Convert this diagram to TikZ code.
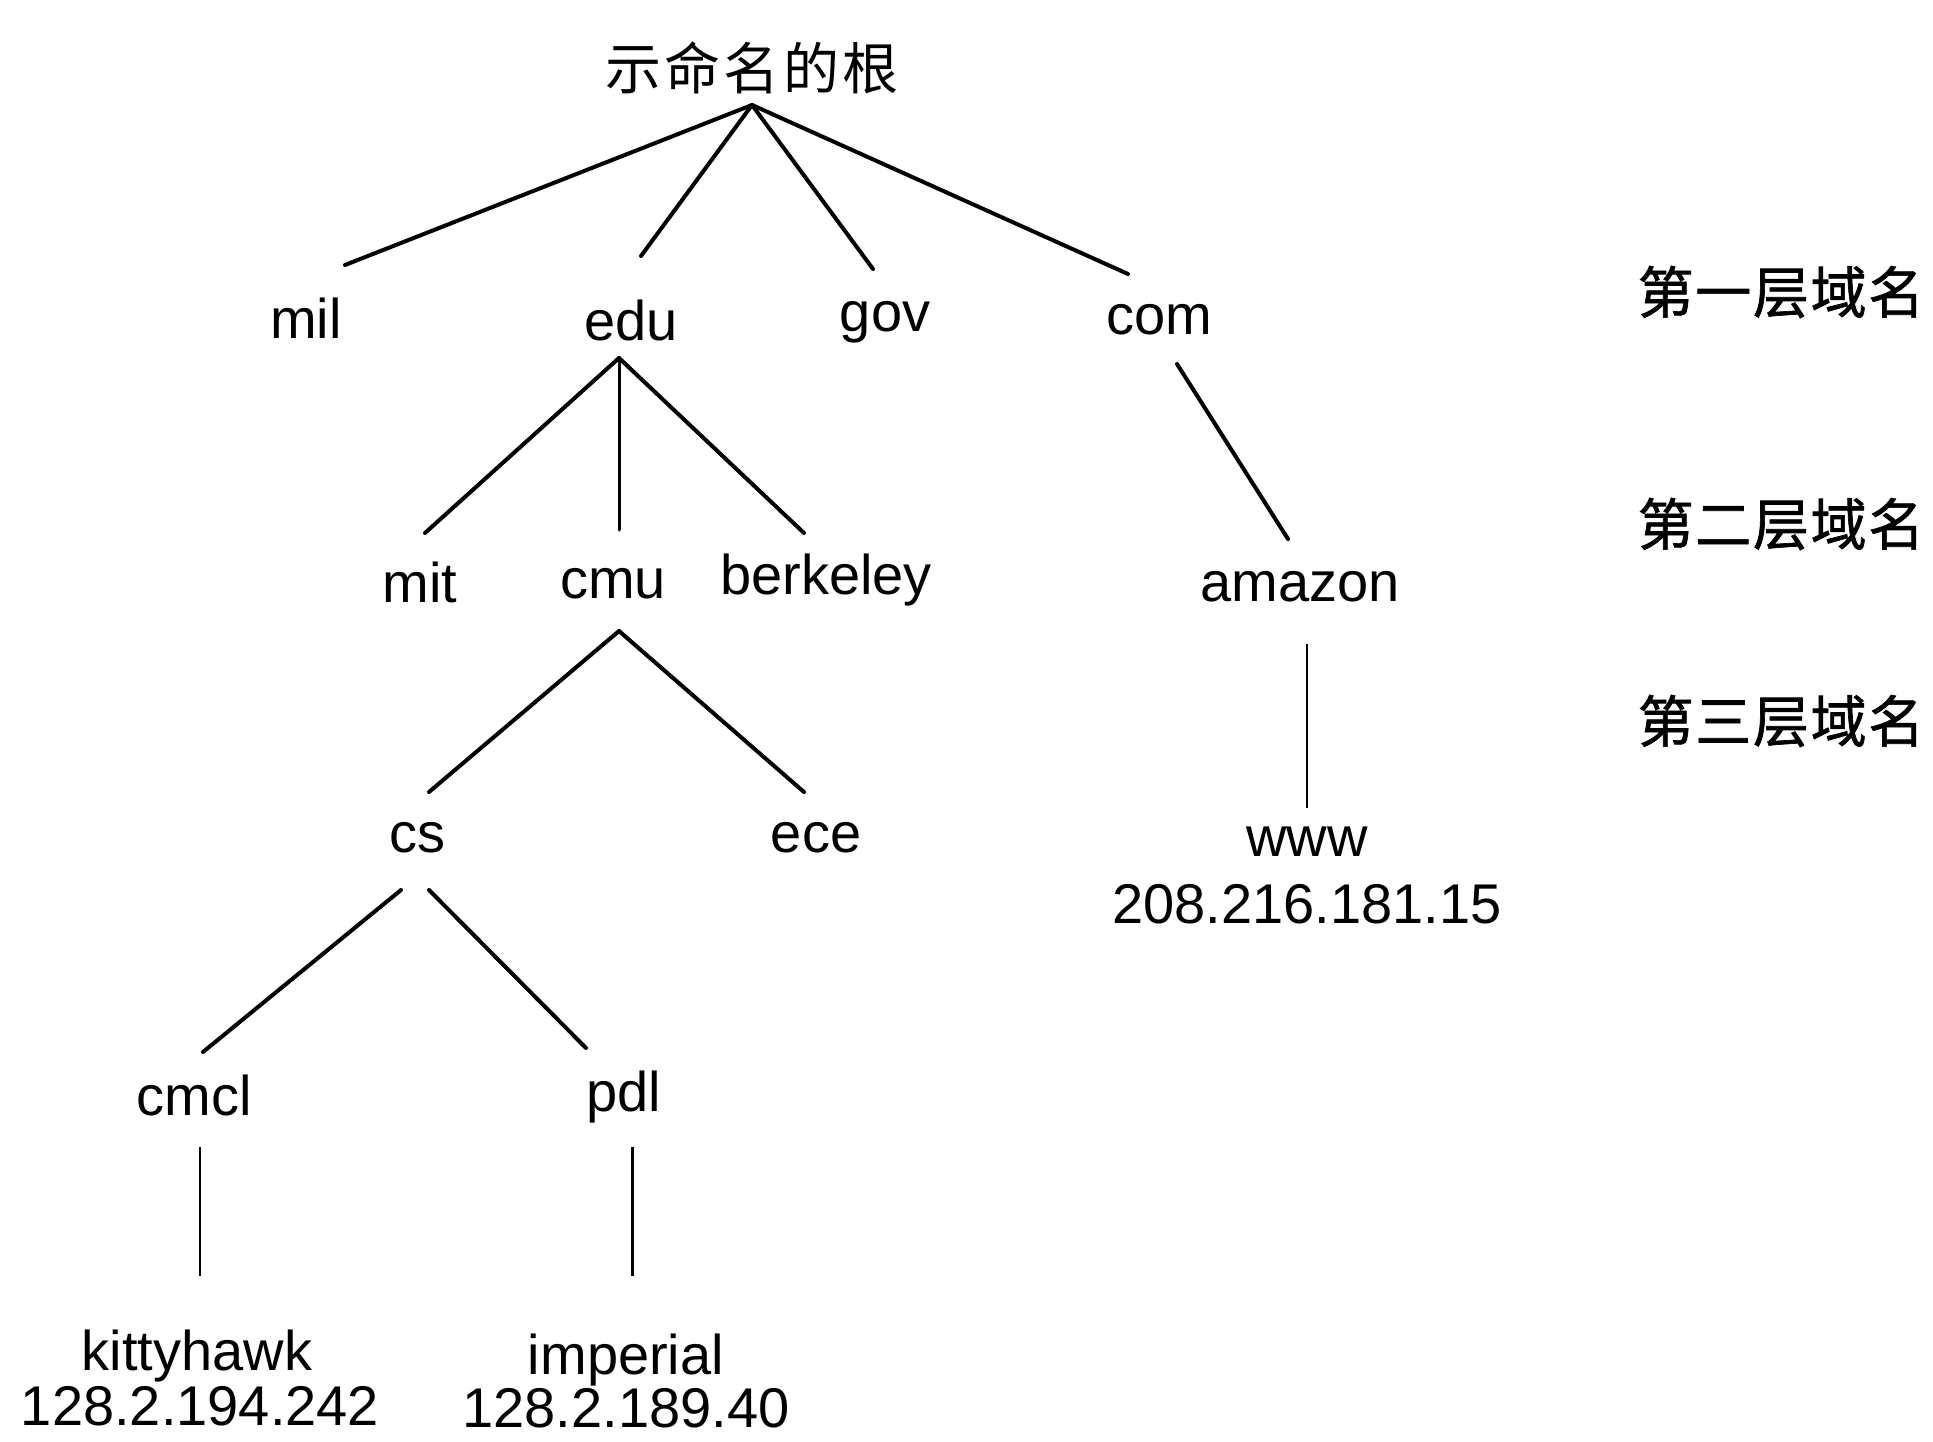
\documentclass[tikz,border=0pt]{standalone}
\usepackage{fontspec}
\setmainfont{Liberation Sans}
\newfontfamily\cjk[LetterSpace=6]{Noto Sans CJK SC}
\newfontfamily\cjkb[FakeBold=1.2,LetterSpace=3]{Noto Sans CJK SC}
\begin{document}
\begin{tikzpicture}[x=1pt,y=-1pt,
  lbl/.style={inner sep=0pt,font=\fontsize{56}{62}\selectfont},
  cjklbl/.style={inner sep=0pt,font=\fontsize{56}{62}\selectfont\cjk},
  lvl/.style={inner sep=0pt,font=\fontsize{56}{62}\selectfont\cjkb},
  edge/.style={line width=4pt,line cap=round},
  vedge/.style={line width=2.2pt}]
\useasboundingbox (0,0) rectangle (1933,1442);
% nodes
\node[cjklbl] (root) at (752,68) {示命名的根};
\node[lbl] (mil) at (306,318) {mil};
\node[lbl] (edu) at (631,320) {edu};
\node[lbl] (gov) at (885,322) {gov};
\node[lbl] (com) at (1159,320) {com};
\node[lbl] (mit) at (420,582) {mit};
\node[lbl] (cmu) at (613,584) {cmu};
\node[lbl] (berkeley) at (826,580) {berkeley};
\node[lbl] (amazon) at (1300,587) {amazon};
\node[lbl] (cs) at (417,838) {cs};
\node[lbl] (ece) at (816,838) {ece};
\node[lbl] (www) at (1307,842) {www};
\node[lbl] (wwwip) at (1307,904) {208.216.181.15};
\node[lbl] (cmcl) at (194,1095) {cmcl};
\node[lbl] (pdl) at (624,1097) {pdl};
\node[lbl] (kitty) at (197,1356) {kittyhawk};
\node[lbl] (kittyip) at (200,1406) {128.2.194.242};
\node[lbl] (imperial) at (626,1360) {imperial};
\node[lbl] (imperialip) at (626,1408) {128.2.189.40};
\node[lvl] (l1) at (1781,292) {第一层域名};
\node[lvl] (l2) at (1781,524) {第二层域名};
\node[lvl] (l3) at (1781,721) {第三层域名};
% connector end points
\coordinate (rootA) at (752,105);
\coordinate (milT) at (345,265);
\coordinate (eduT) at (641,256);
\coordinate (govT) at (873,269);
\coordinate (comT) at (1128,274);
\coordinate (eduA) at (619,358);
\coordinate (mitT) at (425,533);
\coordinate (cmuT) at (619,530);
\coordinate (berT) at (804,533);
\coordinate (comA) at (1177,364);
\coordinate (amaT) at (1288,539);
\coordinate (amaA) at (1307,644);
\coordinate (wwwT) at (1307,808);
\coordinate (cmuA) at (619,631);
\coordinate (csT) at (429,792);
\coordinate (eceT) at (804,792);
\coordinate (csA1) at (401,890);
\coordinate (csA2) at (429,890);
\coordinate (cmclT) at (203,1052);
\coordinate (pdlT) at (586,1048);
\coordinate (cmclA) at (200,1147);
\coordinate (kitT) at (200,1276);
\coordinate (pdlA) at (632,1147);
\coordinate (impT) at (632,1276);
% connectors
\draw[edge] (rootA) -- (milT);
\draw[edge] (rootA) -- (eduT);
\draw[edge] (rootA) -- (govT);
\draw[edge] (rootA) -- (comT);
\draw[edge] (eduA) -- (mitT);
\draw[edge,line width=3pt] (eduA) -- (cmuT);
\draw[edge] (eduA) -- (berT);
\draw[edge] (comA) -- (amaT);
\draw[vedge] (amaA) -- (wwwT);
\draw[edge] (cmuA) -- (csT);
\draw[edge] (cmuA) -- (eceT);
\draw[edge] (csA1) -- (cmclT);
\draw[edge] (csA2) -- (pdlT);
\draw[vedge] (cmclA) -- (kitT);
\draw[vedge,line width=3pt] (pdlA) -- (impT);
\end{tikzpicture}
\end{document}
